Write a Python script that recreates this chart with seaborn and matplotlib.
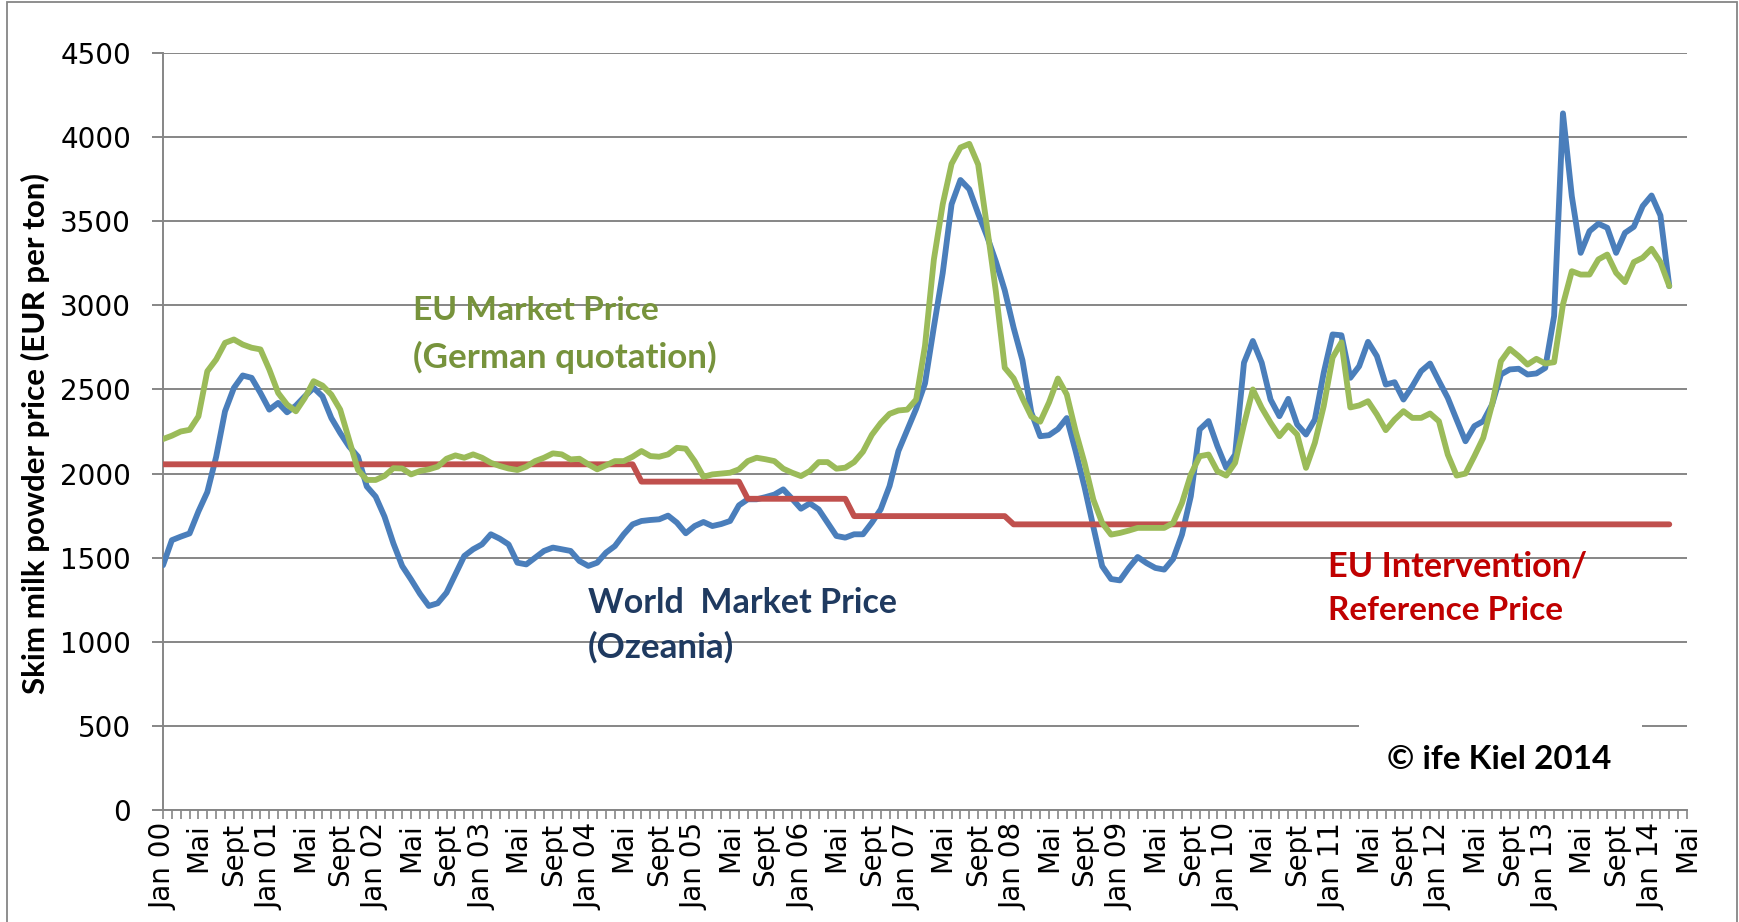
import numpy as np
import pandas as pd
import matplotlib
matplotlib.use("Agg")
import matplotlib.pyplot as plt
import seaborn as sns
from matplotlib.patches import Rectangle

# ---------------- data (EUR per ton, monthly from Jan 2000) ----------------
world = [
    1455, 1604, 1625, 1644, 1775, 1890, 2100, 2370, 2509, 2583, 2569, 2479,
    2380, 2420, 2364, 2404, 2459, 2509, 2459, 2330, 2241, 2161, 2101, 1923,
    1863, 1744, 1585, 1450, 1370, 1285, 1213, 1229, 1292, 1401, 1510, 1550,
    1579, 1639, 1613, 1579, 1470, 1460, 1500, 1540, 1560, 1550, 1540, 1480,
    1451, 1470, 1530, 1569, 1639, 1698, 1718, 1724, 1728, 1750, 1708, 1645,
    1688, 1712, 1688, 1700, 1718, 1811, 1847, 1847, 1860, 1875, 1906, 1850,
    1791, 1823, 1787, 1708, 1629, 1619, 1639, 1639, 1708, 1787, 1926, 2134,
    2260, 2385, 2536, 2871, 3192, 3601, 3745, 3690, 3545, 3411, 3260, 3089,
    2867, 2673, 2363, 2222, 2228, 2264, 2330, 2133, 1921, 1683, 1449, 1373,
    1365, 1439, 1504, 1468, 1439, 1429, 1492, 1637, 1865, 2262, 2312, 2163,
    2034, 2113, 2659, 2788, 2659, 2440, 2341, 2444, 2292, 2232, 2321, 2599,
    2827, 2822, 2569, 2638, 2783, 2698, 2529, 2543, 2440, 2519, 2609, 2654,
    2550, 2450, 2320, 2192, 2282, 2311, 2410, 2589, 2619, 2623, 2589, 2595,
    2628, 2936, 4141, 3649, 3312, 3441, 3485, 3461, 3312, 3431, 3467, 3590,
    3653, 3534, 3114,
]

eu_market = [
    2205, 2225, 2250, 2260, 2340, 2608, 2678, 2777, 2797, 2767, 2748, 2738,
    2618, 2479, 2410, 2370, 2449, 2549, 2523, 2469, 2380, 2201, 2022, 1962,
    1962, 1986, 2032, 2030, 1995, 2015, 2025, 2041, 2088, 2108, 2094, 2114,
    2094, 2064, 2045, 2030, 2021, 2041, 2074, 2094, 2120, 2114, 2084, 2088,
    2055, 2025, 2049, 2074, 2074, 2100, 2134, 2104, 2100, 2114, 2153, 2148,
    2074, 1981, 1995, 2000, 2005, 2025, 2074, 2094, 2085, 2074, 2029, 2005,
    1985, 2015, 2068, 2068, 2029, 2035, 2068, 2130, 2230, 2300, 2355, 2375,
    2380, 2440, 2760, 3272, 3601, 3841, 3938, 3960, 3837, 3466, 3081, 2629,
    2566, 2447, 2339, 2308, 2423, 2565, 2470, 2252, 2064, 1845, 1706, 1637,
    1647, 1661, 1677, 1677, 1677, 1677, 1706, 1825, 1994, 2103, 2113, 2014,
    1988, 2064, 2292, 2500, 2391, 2302, 2222, 2286, 2232, 2034, 2183, 2401,
    2689, 2780, 2393, 2405, 2430, 2351, 2258, 2321, 2371, 2331, 2331, 2357,
    2311, 2113, 1988, 2000, 2103, 2212, 2410, 2668, 2741, 2698, 2648, 2682,
    2654, 2662, 3005, 3203, 3183, 3183, 3273, 3302, 3193, 3138, 3257, 3283,
    3336, 3257, 3114,
]

intervention = [
    2055, 2055, 2055, 2055, 2055, 2055, 2055, 2055, 2055, 2055, 2055, 2055,
    2055, 2055, 2055, 2055, 2055, 2055, 2055, 2055, 2055, 2055, 2055, 2055,
    2055, 2055, 2055, 2055, 2055, 2055, 2055, 2055, 2055, 2055, 2055, 2055,
    2055, 2055, 2055, 2055, 2055, 2055, 2055, 2055, 2055, 2055, 2055, 2055,
    2055, 2055, 2055, 2055, 2055, 2055, 1952, 1952, 1952, 1952, 1952, 1952,
    1952, 1952, 1952, 1952, 1952, 1952, 1850, 1850, 1850, 1850, 1850, 1850,
    1850, 1850, 1850, 1850, 1850, 1850, 1747, 1747, 1747, 1747, 1747, 1747,
    1747, 1747, 1747, 1747, 1747, 1747, 1747, 1747, 1747, 1747, 1747, 1747,
    1698, 1698, 1698, 1698, 1698, 1698, 1698, 1698, 1698, 1698, 1698, 1698,
    1698, 1698, 1698, 1698, 1698, 1698, 1698, 1698, 1698, 1698, 1698, 1698,
    1698, 1698, 1698, 1698, 1698, 1698, 1698, 1698, 1698, 1698, 1698, 1698,
    1698, 1698, 1698, 1698, 1698, 1698, 1698, 1698, 1698, 1698, 1698, 1698,
    1698, 1698, 1698, 1698, 1698, 1698, 1698, 1698, 1698, 1698, 1698, 1698,
    1698, 1698, 1698, 1698, 1698, 1698, 1698, 1698, 1698, 1698, 1698, 1698,
    1698, 1698, 1698,
]

x_tick_labels = [
    "Jan 00", "Mai", "Sept", "Jan 01", "Mai", "Sept", "Jan 02", "Mai", "Sept",
    "Jan 03", "Mai", "Sept", "Jan 04", "Mai", "Sept", "Jan 05", "Mai", "Sept",
    "Jan 06", "Mai", "Sept", "Jan 07", "Mai", "Sept", "Jan 08", "Mai", "Sept",
    "Jan 09", "Mai", "Sept", "Jan 10", "Mai", "Sept", "Jan 11", "Mai", "Sept",
    "Jan 12", "Mai", "Sept", "Jan 13", "Mai", "Sept", "Jan 14", "Mai",
]
y_ticks = [0, 500, 1000, 1500, 2000, 2500, 3000, 3500, 4000, 4500]

# ---------------- styling ----------------
W, H = 1740, 922
sns.set_theme(style="white")
plt.rcParams["font.family"] = ["DejaVu Sans"]

GRID = "#868686"
BLUE = "#4A7EBB"
RED = "#C0504D"
GREEN = "#9BBB59"

fig = plt.figure(figsize=(W / 100, H / 100), dpi=100)
fig.patch.set_facecolor("white")
left_px, right_px, top_px, bot_px = 163, 1687, 53, 810
ax = fig.add_axes([left_px / W, 1 - bot_px / H, (right_px - left_px) / W, (bot_px - top_px) / H])
ax.set_facecolor("white")

df = pd.DataFrame({
    "month": np.arange(len(world)),
    "world": world,
    "eu": eu_market,
    "interv": intervention,
})

lw = 4.2
common = dict(ax=ax, legend=False, solid_joinstyle="round", solid_capstyle="round")
sns.lineplot(data=df, x="month", y="world", color=BLUE, lw=lw, zorder=3, **common)
sns.lineplot(data=df, x="month", y="interv", color=RED, lw=lw, zorder=4, **common)
sns.lineplot(data=df, x="month", y="eu", color=GREEN, lw=lw, zorder=5, **common)

n_cat = 4 * (len(x_tick_labels) - 1)
ax.set_xlim(0, n_cat)
ax.set_ylim(y_ticks[0], y_ticks[-1])
ax.set_xlabel("")
ax.set_ylabel("")

ax.set_yticks(y_ticks)
ax.set_yticklabels([str(v) for v in y_ticks])
ax.set_xticks(np.arange(0, n_cat + 1, 4))
ax.set_xticks(np.arange(0, n_cat + 1, 1), minor=True)
ax.set_xticklabels(x_tick_labels, rotation=90, va="top", ha="center")

ax.yaxis.grid(True, color=GRID, lw=1.4)
ax.xaxis.grid(False)
ax.set_axisbelow(True)
for s in ["top", "right"]:
    ax.spines[s].set_visible(False)
for s in ["left", "bottom"]:
    ax.spines[s].set_color(GRID)
    ax.spines[s].set_linewidth(1.4)

ax.tick_params(axis="y", which="major", direction="out", length=8, width=1.4,
               color=GRID, labelsize=20, pad=15, labelcolor="black", left=True)
ax.tick_params(axis="x", which="both", direction="out", length=6.5, width=1.2,
               color=GRID, labelsize=20, pad=3, labelcolor="black", bottom=True)

# white box behind the copyright text
box = Rectangle((1359 / W, 1 - 800 / H), (1642 - 1359) / W, (800 - 718) / H,
                transform=fig.transFigure, facecolor="white", edgecolor="none", zorder=2)
ax.add_patch(box)

def ftxt(xp, yp, s, color, **kw):
    return fig.text(xp / W, 1 - yp / H, s, color=color, fontweight="bold",
                    family=["Lato", "DejaVu Sans"], va="center", ha="left", fontsize=22, **kw)

texts = [
    (ftxt(413, 311, "EU Market Price", "#77933C"), 245),
    (ftxt(413, 357, "(German quotation)", "#77933C"), 303),
    (ftxt(588, 603, "World  Market Price", "#1F3A60"), 308),
    (ftxt(588, 647, "(Ozeania)", "#1F3A60"), 146),
    (ftxt(1328, 566, "EU Intervention/", "#C00000"), 259),
    (ftxt(1328, 610, "Reference Price", "#C00000"), 236),
    (ftxt(1387, 759, "\u00a9 ife Kiel 2014", "black"), 224),
]
ylab = fig.text(35 / W, 1 - 433 / H, "Skim milk powder price (EUR per ton)", rotation=90,
                fontweight="bold", family=["Lato", "DejaVu Sans"], va="center", ha="center",
                fontsize=18, color="black")

fig.canvas.draw()
renderer = fig.canvas.get_renderer()
for t, target in texts:
    w = t.get_window_extent(renderer).width
    t.set_fontsize(t.get_fontsize() * target / w)
hl = ylab.get_window_extent(renderer).height
ylab.set_fontsize(ylab.get_fontsize() * 522 / hl)

# chart border
fig.patches.append(Rectangle((7 / W, -0.01), (1737 - 7) / W, 1.01 - 2 / H,
                             transform=fig.transFigure, fill=False, edgecolor=GRID, lw=1.3))

fig.savefig("out.png", dpi=100, facecolor="white")
